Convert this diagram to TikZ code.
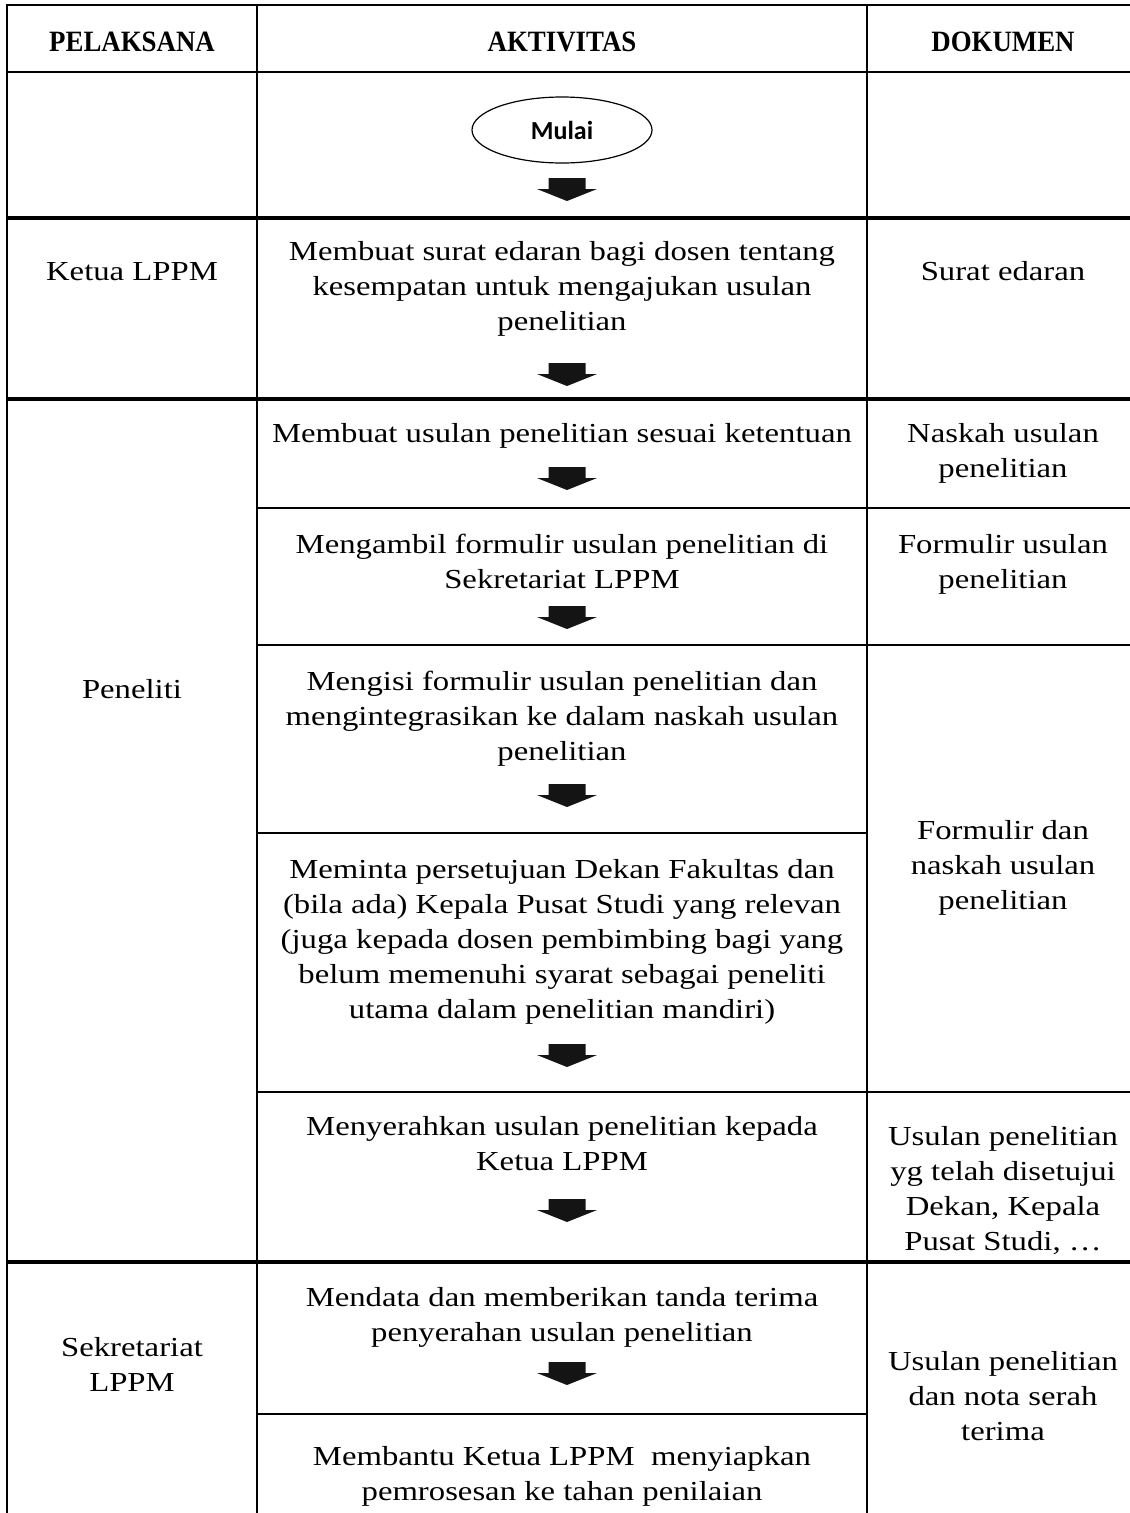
\documentclass[tikz,border=0pt]{standalone}
\usepackage{fontspec}
\setmainfont{Liberation Serif}[FakeStretch=1.19]
\newfontfamily\hdfont{Liberation Serif}[FakeStretch=0.91]
\newfontfamily\mulaifont{Carlito}
\usetikzlibrary{shapes.geometric}
\newcommand{\flowarrow}[2]{%
  \fill[arrowfill] (#1-18.5,#2) -- (#1+18.5,#2) -- (#1+18.5,#2+11) -- (#1+30,#2+11)
    -- (#1,#2+23) -- (#1-30,#2+11) -- (#1-18.5,#2+11) -- cycle;}
\begin{document}
\begin{tikzpicture}[x=1pt,y=-1pt,
  every node/.style={inner sep=0pt, outer sep=0pt},
  body/.style={font=\fontsize{27.5}{35}\selectfont, align=center, anchor=base},
  hd/.style={font=\hdfont\bfseries\fontsize{29.5}{34}\selectfont, anchor=base},
  rule/.style={line width=2pt},
  thickrule/.style={line width=3.2pt},
  arrowfill/.style={fill=black!92},
  startnode/.style={ellipse, draw, line width=1.2pt, minimum width=180pt, minimum height=66pt,
    font=\mulaifont\bfseries\fontsize{26}{30}\selectfont}
]
\useasboundingbox[fill=white] (0,0) rectangle (1130,1513);

% columns
\draw[rule] (7,4) -- (7,1513);
\draw[rule] (257,4) -- (257,1513);
\draw[rule] (867,4) -- (867,1513);

% rows
\draw[rule] (6,5) -- (1130,5);
\draw[rule] (6,72) -- (1130,72);
\draw[thickrule] (6,218) -- (1130,218);
\draw[thickrule] (6,399) -- (1130,399);
\draw[rule] (257,508) -- (1130,508);
\draw[rule] (257,645) -- (1130,645);
\draw[rule] (257,833) -- (867,833);
\draw[rule] (257,1092) -- (1130,1092);
\draw[thickrule] (6,1262) -- (1130,1262);
\draw[rule] (257,1414) -- (867,1414);

% header
\node[hd] (hpel) at (132,51) {PELAKSANA};
\node[hd] (hakt) at (562,51) {AKTIVITAS};
\node[hd] (hdok) at (1003,51) {DOKUMEN};

% start
\node[startnode] (mulai) at (562,130) {Mulai};
\flowarrow{567}{178}

% Ketua LPPM row (anchor=base is the last line's baseline)
\node[body] (pketua) at (132,280) {Ketua LPPM};
\node[body] (a1) at (562,330) {Membuat surat edaran bagi dosen tentang\\kesempatan untuk mengajukan usulan\\penelitian};
\node[body] (d1) at (1003,280) {Surat edaran};
\flowarrow{567}{363}

% Peneliti rows
\node[body] (ppen) at (132,698) {Peneliti};
\node[body] (a2) at (562,442) {Membuat usulan penelitian sesuai ketentuan};
\node[body] (d2) at (1003,477) {Naskah usulan\\penelitian};
\flowarrow{567}{467}

\node[body] (a3) at (562,588) {Mengambil formulir usulan penelitian di\\Sekretariat LPPM};
\node[body] (d3) at (1003,588) {Formulir usulan\\penelitian};
\flowarrow{567}{606}

\node[body] (a4) at (562,760) {Mengisi formulir usulan penelitian dan\\mengintegrasikan ke dalam naskah usulan\\penelitian};
\flowarrow{567}{784}

\node[body] (d4) at (1003,909) {Formulir dan\\naskah usulan\\penelitian};

\node[body] (a5) at (562,1018) {Meminta persetujuan Dekan Fakultas dan\\(bila ada) Kepala Pusat Studi yang relevan\\(juga kepada dosen pembimbing bagi yang\\belum memenuhi syarat sebagai peneliti\\utama dalam penelitian mandiri)};
\flowarrow{567}{1044}

\node[body] (a6) at (562,1170) {Menyerahkan usulan penelitian kepada\\Ketua LPPM};
\node[body] (d6) at (1003,1250) {Usulan penelitian\\yg telah disetujui\\Dekan, Kepala\\Pusat Studi, …};
\flowarrow{567}{1199}

% Sekretariat rows
\node[body] (psek) at (132,1391) {Sekretariat\\LPPM};
\node[body] (a7) at (562,1341) {Mendata dan memberikan tanda terima\\penyerahan usulan penelitian};
\node[body] (d7) at (1003,1440) {Usulan penelitian\\dan nota serah\\terima};
\flowarrow{567}{1362}

\node[body] (a8) at (562,1500) {Membantu Ketua LPPM\ \ menyiapkan\\pemrosesan ke tahan penilaian};
\end{tikzpicture}
\end{document}
